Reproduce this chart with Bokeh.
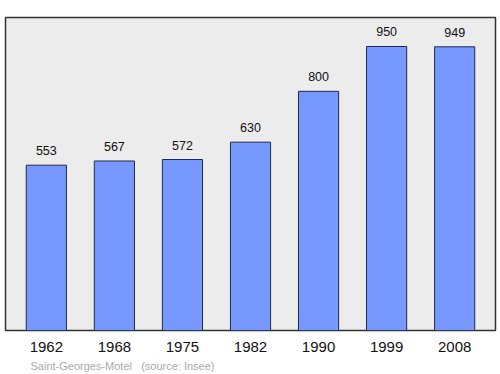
from bokeh.plotting import figure
from bokeh.models import ColumnDataSource, Range1d, Title, FixedTicker
from bokeh.embed import file_html
from bokeh.resources import INLINE
from bokeh.core.properties import value

years = ["1962", "1968", "1975", "1982", "1990", "1999", "2008"]
population = [553, 567, 572, 630, 800, 950, 949]
source_note = "Saint-Georges-Motel\u00a0\u00a0\u00a0(source: Insee)"

idx = list(range(len(years)))
src = ColumnDataSource(dict(x=idx, top=population, lbl=[str(v) for v in population]))

p = figure(width=500, height=374, output_backend="svg", toolbar_location=None,
           x_range=Range1d(-0.6, 6.6), y_range=Range1d(0, 1047),
           min_border_left=5, min_border_right=5, min_border_top=17, min_border_bottom=44)
p.background_fill_color = "#ececec"
p.border_fill_color = "white"
p.outline_line_color = "#333333"
p.outline_line_width = 1.5
p.grid.visible = False
p.yaxis.visible = False

p.vbar(x="x", top="top", width=0.59, bottom=0, source=src,
       fill_color="#7799ff", line_color="#1f2a4a", line_width=1)
p.text(x="x", y="top", text="lbl", source=src, text_align="center",
       text_baseline="bottom", y_offset=-10, text_font_size="12.5px",
       text_font=value("Liberation Sans"), text_color="#111111")

p.xaxis.ticker = FixedTicker(ticks=idx)
p.xaxis.major_label_overrides = {i: y for i, y in enumerate(years)}
p.xaxis.major_tick_line_color = None
p.xaxis.minor_tick_line_color = None
p.xaxis.axis_line_color = None
p.xaxis.major_label_standoff = 5
p.xaxis.major_label_text_font = "Liberation Sans"
p.xaxis.major_label_text_font_size = "15px"
p.xaxis.major_label_text_color = "#111111"

p.add_layout(Title(text=source_note, align="left", offset=25, standoff=6,
                   text_font="Liberation Sans", text_font_size="11px",
                   text_font_style="normal", text_color="#aaaaaa"), "below")

open("out.html", "w").write(file_html(p, INLINE))
